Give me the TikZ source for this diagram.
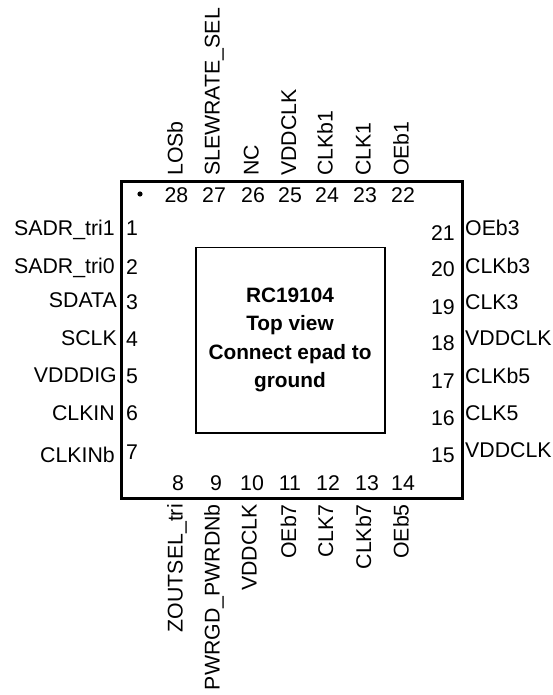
\documentclass[tikz,border=0pt]{standalone}
\usepackage{fontspec}
\setmainfont{Liberation Sans}
\tikzset{
 lab/.style={inner sep=0pt,text height=15.3pt,text depth=0pt,font=\fontsize{21.3pt}{24pt}\selectfont},
 pin/.style={lab},
 pl/.style={lab,anchor=east},
 pr/.style={lab,anchor=west},
 pt/.style={lab,rotate=90,anchor=west},
 pb/.style={lab,rotate=90,anchor=east},
 package/.style={draw,line width=3.6pt},
 epad/.style={draw,line width=1.8pt},
 ctitle/.style={inner sep=0pt,font=\fontsize{20.8pt}{28.5pt}\selectfont\bfseries,align=center}
}
\begin{document}
\begin{tikzpicture}[x=1pt,y=-1pt]
\useasboundingbox (0,0) rectangle (553,695);
\node[package,minimum width=341,minimum height=317,inner sep=0,anchor=north west] (pkg) at (119.5,179.5) {};
\node[epad,minimum width=189,minimum height=185.5,inner sep=0,anchor=north west] (pad) at (195,246.5) {};
\node[ctitle] (title) at (290,340) {RC19104\\Top view\\Connect epad to\\ground};
\fill (140,194) circle (2.6);
% left
\foreach \n/\t/\y/\r/\d in {1/SADR\_tri1/228/115/228,2/SADR\_tri0/266/115/267,3/SDATA/300/117/302,4/SCLK/338/117/339,5/VDDDIG/375/117/376,6/CLKIN/413/115/413,7/CLKINb/455/115/452}{
 \node[pl] (ln\n) at (\r,\y) {\t};
 \node[pin,anchor=west] (lp\n) at (126,\d) {\n};
}
% right
\foreach \n/\t/\y/\d in {21/OEb3/228/233,20/CLKb3/266/269,19/CLK3/302/307,18/VDDCLK/338/343,17/CLKb5/376/381,16/CLK5/413/418,15/VDDCLK/450/455}{
 \node[pr] (rn\n) at (465,\y) {\t};
 \node[pin,anchor=east] (rp\n) at (455,\d) {\n};
}
% top
\foreach \n/\t/\x/\d in {28/LOSb/175/176.5,27/SLEWRATE\_SEL/212/214,26/NC/251/253,25/VDDCLK/288.5/290,24/CLKb1/325/327,23/CLK1/363/365,22/OEb1/401/403}{
 \node[pt] (tn\n) at (\x,176) {\t};
 \node[pin] (tp\n) at (\d,195) {\n};
}
% bottom
\foreach \n/\t/\x/\d in {8/ZOUTSEL\_tri/175/178,9/PWRGD\_PWRDNb/212/216,10/VDDCLK/249/252,11/OEb7/288.5/290,12/CLK7/325.5/328,13/CLKb7/363.5/367,14/OEb5/401/403}{
 \node[pb] (bn\n) at (\x,504) {\t};
 \node[pin] (bp\n) at (\d,483) {\n};
}
\end{tikzpicture}
\end{document}
